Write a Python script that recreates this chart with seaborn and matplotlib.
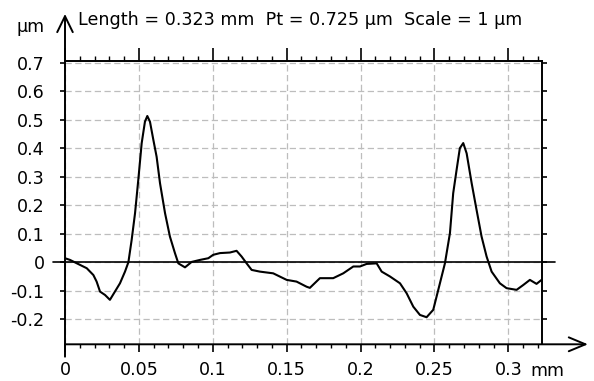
import matplotlib
matplotlib.use("Agg")
import matplotlib.pyplot as plt
import seaborn as sns
import pandas as pd
import numpy as np

# ---- data ----
pos_mm = [0.0, 0.0034, 0.0100, 0.0147, 0.0192, 0.0214, 0.0237, 0.0271, 0.0304, 0.0338,
          0.0372, 0.0406, 0.0429, 0.0451, 0.0474, 0.0496, 0.0519, 0.0541, 0.0557, 0.0575,
          0.0598, 0.0620, 0.0643, 0.0677, 0.0710, 0.0744, 0.0767, 0.0812, 0.0857, 0.0913,
          0.0970, 0.1003, 0.1049, 0.1116, 0.1161, 0.1195, 0.1229, 0.1263, 0.1319, 0.1409,
          0.1500, 0.1567, 0.1635, 0.1657, 0.1725, 0.1815, 0.1883, 0.1951, 0.1996, 0.2041,
          0.2109, 0.2143, 0.2199, 0.2267, 0.2312, 0.2357, 0.2402, 0.2447, 0.2492, 0.2526,
          0.2571, 0.2605, 0.2627, 0.2650, 0.2672, 0.2695, 0.2718, 0.2752, 0.2785, 0.2819,
          0.2853, 0.2887, 0.2943, 0.2988, 0.3056, 0.3101, 0.3146, 0.3191, 0.3225]
height_um = [0.014, 0.008, -0.009, -0.021, -0.045, -0.068, -0.103, -0.115, -0.132, -0.103,
             -0.074, -0.033, 0.000, 0.078, 0.172, 0.289, 0.418, 0.493, 0.513, 0.493,
             0.429, 0.370, 0.277, 0.172, 0.090, 0.032, -0.004, -0.018, 0.001, 0.008,
             0.014, 0.026, 0.032, 0.034, 0.040, 0.020, -0.004, -0.027, -0.033, -0.039,
             -0.062, -0.068, -0.086, -0.090, -0.056, -0.056, -0.039, -0.015, -0.015, -0.006,
             -0.004, -0.033, -0.050, -0.074, -0.109, -0.156, -0.185, -0.193, -0.167, -0.097,
             -0.004, 0.102, 0.242, 0.324, 0.400, 0.418, 0.382, 0.277, 0.184, 0.090,
             0.020, -0.033, -0.074, -0.091, -0.097, -0.080, -0.062, -0.076, -0.062]

x_ticks = [0, 0.05, 0.1, 0.15, 0.2, 0.25, 0.3]
x_tick_labels = ["0", "0.05", "0.1", "0.15", "0.2", "0.25", "0.3"]
y_ticks = [0.7, 0.6, 0.5, 0.4, 0.3, 0.2, 0.1, 0, -0.1, -0.2]
y_tick_labels = ["0.7", "0.6", "0.5", "0.4", "0.3", "0.2", "0.1", "0", "-0.1", "-0.2"]
header = "Length = 0.323 mm  Pt = 0.725 \u00b5m  Scale = 1 \u00b5m"
x_unit = "mm"
y_unit = "\u00b5m"

length_mm = 0.323
y_low, y_high = -0.288, 0.707

sns.set_theme(style="white")
plt.rcParams["font.family"] = ["DejaVu Sans"]
FS = 12.6

fig = plt.figure(figsize=(5.94, 3.81), dpi=100)
ax = fig.add_axes([65 / 594, 1 - 344.3 / 381, (542.3 - 65) / 594, 283.6 / 381])

df = pd.DataFrame({"x": pos_mm, "y": height_um})
sns.lineplot(data=df, x="x", y="y", ax=ax, color="black", lw=1.5, sort=False, zorder=5)

ax.set_xlim(0, length_mm)
ax.set_ylim(y_low, y_high)
ax.set_xlabel("")
ax.set_ylabel("")

ax.set_xticks(x_ticks, labels=x_tick_labels, fontsize=FS)
ax.set_xticks(np.arange(0, 0.3201, 0.01), minor=True)
ax.set_yticks(y_ticks, labels=y_tick_labels, fontsize=FS)

ax.grid(True, which="major", color="#bdbdbd", lw=0.9, ls=(0, (5, 2.8)))
ax.grid(False, which="minor")
ax.set_axisbelow(True)

for s in ["left", "bottom"]:
    ax.spines[s].set_visible(False)
for s in ["top", "right"]:
    ax.spines[s].set_color("black")
    ax.spines[s].set_linewidth(1.4)

ax.tick_params(axis="x", which="major", direction="out", length=5.8, width=1.2,
               color="black", pad=6.0, labelcolor="black", bottom=True, top=False)
ax.tick_params(axis="x", which="minor", direction="out", length=2.9, width=1.0,
               color="black", bottom=True, top=False)
ax.tick_params(axis="y", which="major", direction="out", length=3.6, width=1.2,
               color="black", pad=11, labelcolor="black", left=True, right=True)

# top ticks (different lengths)
sec = ax.secondary_xaxis("top")
sec.set_xticks(x_ticks, labels=[""] * len(x_ticks))
sec.set_xticks(np.arange(0, 0.3201, 0.01), minor=True)
sec.spines["top"].set_visible(False)
sec.tick_params(axis="x", which="major", direction="out", length=9.4, width=1.2, color="black")
sec.tick_params(axis="x", which="minor", direction="out", length=3.6, width=1.0, color="black")

# zero line
ax.plot([-0.0081, 0.3315], [0, 0], color="black", lw=1.2, clip_on=False, zorder=4)

# axes with arrows
ax.annotate("", xy=(0, 0.871), xytext=(0, -0.3315), annotation_clip=False,
            arrowprops=dict(arrowstyle="->,head_length=1.15,head_width=0.56",
                            lw=1.4, color="black", shrinkA=0, shrinkB=0, mutation_scale=10))
ax.annotate("", xy=(0.3539, y_low), xytext=(0, y_low), annotation_clip=False,
            arrowprops=dict(arrowstyle="->,head_length=1.2,head_width=0.5",
                            lw=1.4, color="black", shrinkA=0, shrinkB=0, mutation_scale=10))

fig.text(78 / 594, 1 - 25 / 381, header, fontsize=FS, ha="left", va="baseline", color="black")
fig.text(17 / 594, 1 - 32 / 381, y_unit, fontsize=FS, ha="left", va="baseline", color="black")
fig.text(530 / 594, 1 - 376 / 381, x_unit, fontsize=FS, ha="left", va="baseline", color="black")

fig.savefig("out.png", dpi=100, facecolor="white")
